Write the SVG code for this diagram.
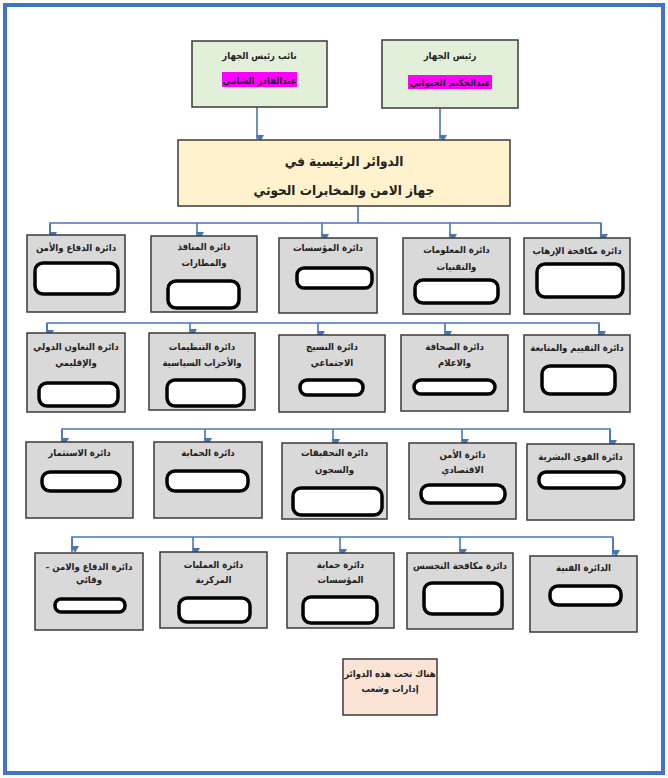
<svg xmlns="http://www.w3.org/2000/svg" width="668" height="778" viewBox="0 0 668 778">
<style>
text{font-family:"DejaVu Sans Condensed","DejaVu Sans",sans-serif;font-weight:bold;fill:#222;text-anchor:middle;direction:rtl}
.t{font-size:9.5px}
.big{font-size:13.5px}
.dept{fill:#d9d9d9;stroke:#3a3a3a;stroke-width:1.5}
.inner{fill:#fff;stroke:#000;stroke-width:3.5}
.head{fill:#e2efd9;stroke:#3a3a3a;stroke-width:1.5}
.main{fill:#fff2cc;stroke:#3a3a3a;stroke-width:1.5}
.note{fill:#fbe4d5;stroke:#3a3a3a;stroke-width:1.5}
.hl{fill:#ff00ff}
.c{fill:none;stroke:#4a75b5;stroke-width:1.6}
.ca{fill:none;stroke:#4a75b5;stroke-width:1.6;marker-end:url(#ar)}
</style>
<defs>
<marker id="ar" markerUnits="userSpaceOnUse" markerWidth="8" markerHeight="8" refX="4" refY="7" orient="auto-start-reverse" viewBox="0 0 8 8">
<path d="M0,0 L8,0 L4,7 Z" fill="#4a75b5" transform="rotate(-90 4 4)"/>
</marker>
</defs>
<rect width="668" height="778" fill="#fff"/>
<rect x="5" y="5" width="658" height="768" fill="none" stroke="#4472c4" stroke-width="4"/>

<g id="connectors">
<line class="ca" x1="257" y1="107" x2="257" y2="139"/>
<line class="ca" x1="440" y1="108" x2="440" y2="139"/>
<line class="c" x1="358" y1="206" x2="358" y2="223"/>
<polyline class="c" points="50,235 50,223 601,223 601,237"/>
<path class="ca" d="M50,224 V236"/>
<path class="ca" d="M601,224 V238"/>
<path class="ca" d="M197,223 V236"/>
<path class="ca" d="M322,223 V238"/>
<path class="ca" d="M450,223 V238"/>

<polyline class="c" points="47,333 47,323 599,323 599,335"/>
<path class="ca" d="M47,324 V334"/>
<path class="ca" d="M599,324 V335"/>
<path class="ca" d="M190,323 V333"/>
<path class="ca" d="M318,323 V335"/>
<path class="ca" d="M445,323 V335"/>

<polyline class="c" points="62,442 62,429 610,429 610,444"/>
<path class="ca" d="M62,430 V442"/>
<path class="ca" d="M610,430 V444"/>
<path class="ca" d="M205,429 V442"/>
<path class="ca" d="M333,429 V443"/>
<path class="ca" d="M462,429 V443"/>

<polyline class="c" points="72,552 72,537 613,537 613,555"/>
<path class="ca" d="M72,538 V550"/>
<path class="ca" d="M613,538 V554"/>
<path class="ca" d="M193,537 V552"/>
<path class="ca" d="M340,537 V553"/>
<path class="ca" d="M460,537 V553"/>
</g>

<g id="deputy">
<rect class="head" x="192" y="41" width="135" height="66"/>
<text class="t" x="259.5" y="59">نائب رئيس الجهاز</text>
<rect class="hl" x="222" y="72" width="75" height="15"/>
<text class="t" x="259.5" y="83.5">عبدالقادر الشامي</text>
</g>
<g id="head">
<rect class="head" x="382" y="40" width="136" height="68"/>
<text class="t" x="450" y="59">رئيس الجهاز</text>
<rect class="hl" x="408" y="75" width="84" height="14"/>
<text class="t" x="450" y="86">عبدالحكيم الخيواني</text>
</g>
<g id="main">
<rect class="main" x="178" y="140" width="332" height="66"/>
<text class="big" x="344" y="166">الدوائر الرئيسية في</text>
<text class="big" x="344" y="195">جهاز الامن والمخابرات الحوثي</text>
</g>

<g id="r1a">
<rect class="dept" x="27" y="235" width="98" height="77"/>
<text class="t" x="76" y="251">دائرة الدفاع والأمن</text>
<rect class="inner" x="35" y="263" width="83" height="31" rx="8"/>
</g>
<g id="r1b">
<rect class="dept" x="151" y="236" width="106" height="76"/>
<text class="t" x="204" y="250">دائرة المنافذ</text>
<text class="t" x="204" y="266">والمطارات</text>
<rect class="inner" x="168" y="281" width="71" height="27" rx="8"/>
</g>
<g id="r1c">
<rect class="dept" x="279" y="238" width="98" height="75"/>
<text class="t" x="328" y="251">دائرة المؤسسات</text>
<rect class="inner" x="297" y="268" width="75" height="20" rx="7"/>
</g>
<g id="r1d">
<rect class="dept" x="403" y="238" width="107" height="76"/>
<text class="t" x="456.5" y="253">دائرة المعلومات</text>
<text class="t" x="456.5" y="270">والتقنيات</text>
<rect class="inner" x="415" y="280" width="83" height="23" rx="8"/>
</g>
<g id="r1e">
<rect class="dept" x="524" y="238" width="106" height="76"/>
<text class="t" x="577" y="254">دائرة مكافحة الإرهاب</text>
<rect class="inner" x="537" y="264" width="86" height="33" rx="8"/>
</g>

<g id="r2a">
<rect class="dept" x="27" y="333" width="98" height="79"/>
<text class="t" x="76" y="350">دائرة التعاون الدولي</text>
<text class="t" x="76" y="366">والإقليمي</text>
<rect class="inner" x="39" y="383" width="79" height="23" rx="8"/>
</g>
<g id="r2b">
<rect class="dept" x="149" y="333" width="106" height="77"/>
<text class="t" x="202" y="350">دائرة التنظيمات</text>
<text class="t" x="202" y="366">والأحزاب السياسية</text>
<rect class="inner" x="167" y="380" width="77" height="26" rx="8"/>
</g>
<g id="r2c">
<rect class="dept" x="279" y="335" width="106" height="77"/>
<text class="t" x="332" y="350">دائرة النسيج</text>
<text class="t" x="332" y="366">الاجتماعي</text>
<rect class="inner" x="300" y="380" width="63" height="15" rx="7"/>
</g>
<g id="r2d">
<rect class="dept" x="401" y="335" width="107" height="76"/>
<text class="t" x="454.5" y="350">دائرة الصحافة</text>
<text class="t" x="454.5" y="366">والاعلام</text>
<rect class="inner" x="414" y="380" width="81" height="14" rx="7"/>
</g>
<g id="r2e">
<rect class="dept" x="524" y="335" width="106" height="77"/>
<text class="t" x="577" y="351">دائرة التقييم والمتابعة</text>
<rect class="inner" x="542" y="366" width="73" height="28" rx="8"/>
</g>

<g id="r3a">
<rect class="dept" x="26" y="442" width="107" height="76"/>
<text class="t" x="79.5" y="456">دائرة الاستثمار</text>
<rect class="inner" x="42" y="472" width="78" height="19" rx="8"/>
</g>
<g id="r3b">
<rect class="dept" x="154" y="442" width="108" height="76"/>
<text class="t" x="208" y="456">دائرة الحماية</text>
<rect class="inner" x="167" y="471" width="81" height="20" rx="8"/>
</g>
<g id="r3c">
<rect class="dept" x="282" y="443" width="105" height="76"/>
<text class="t" x="334.5" y="456">دائرة التحقيقات</text>
<text class="t" x="334.5" y="473">والسجون</text>
<rect class="inner" x="293" y="488" width="89" height="27" rx="8"/>
</g>
<g id="r3d">
<rect class="dept" x="409" y="443" width="107" height="76"/>
<text class="t" x="462.5" y="458">دائرة الأمن</text>
<text class="t" x="462.5" y="473">الاقتصادي</text>
<rect class="inner" x="421" y="485" width="84" height="18" rx="8"/>
</g>
<g id="r3e">
<rect class="dept" x="527" y="444" width="107" height="76"/>
<text class="t" x="580.5" y="460">دائرة القوى البشرية</text>
<rect class="inner" x="539" y="472" width="85" height="16" rx="7"/>
</g>

<g id="r4a">
<rect class="dept" x="35" y="553" width="108" height="77"/>
<text class="t" x="89" y="570">دائرة الدفاع والامن -</text>
<text class="t" x="89" y="583">وقائي</text>
<rect class="inner" x="55" y="599" width="70" height="13" rx="6"/>
</g>
<g id="r4b">
<rect class="dept" x="160" y="552" width="107" height="76"/>
<text class="t" x="213.5" y="568">دائرة العمليات</text>
<text class="t" x="213.5" y="583">المركزية</text>
<rect class="inner" x="179" y="598" width="71" height="24" rx="8"/>
</g>
<g id="r4c">
<rect class="dept" x="287" y="553" width="107" height="75"/>
<text class="t" x="340.5" y="568">دائرة حماية</text>
<text class="t" x="340.5" y="583">المؤسسات</text>
<rect class="inner" x="303" y="597" width="74" height="26" rx="8"/>
</g>
<g id="r4d">
<rect class="dept" x="407" y="553" width="106" height="76"/>
<text class="t" x="460" y="569">دائرة مكافحة التجسس</text>
<rect class="inner" x="424" y="583" width="78" height="31" rx="8"/>
</g>
<g id="r4e">
<rect class="dept" x="530" y="556" width="107" height="76"/>
<text class="t" x="583.5" y="571">الدائرة الفنية</text>
<rect class="inner" x="550" y="586" width="71" height="19" rx="8"/>
</g>

<g id="note">
<rect class="note" x="343" y="659" width="94" height="56"/>
<text class="t" x="390" y="677">هناك تحت هذه الدوائر</text>
<text class="t" x="390" y="692">إدارات وشعب</text>
</g>
</svg>
